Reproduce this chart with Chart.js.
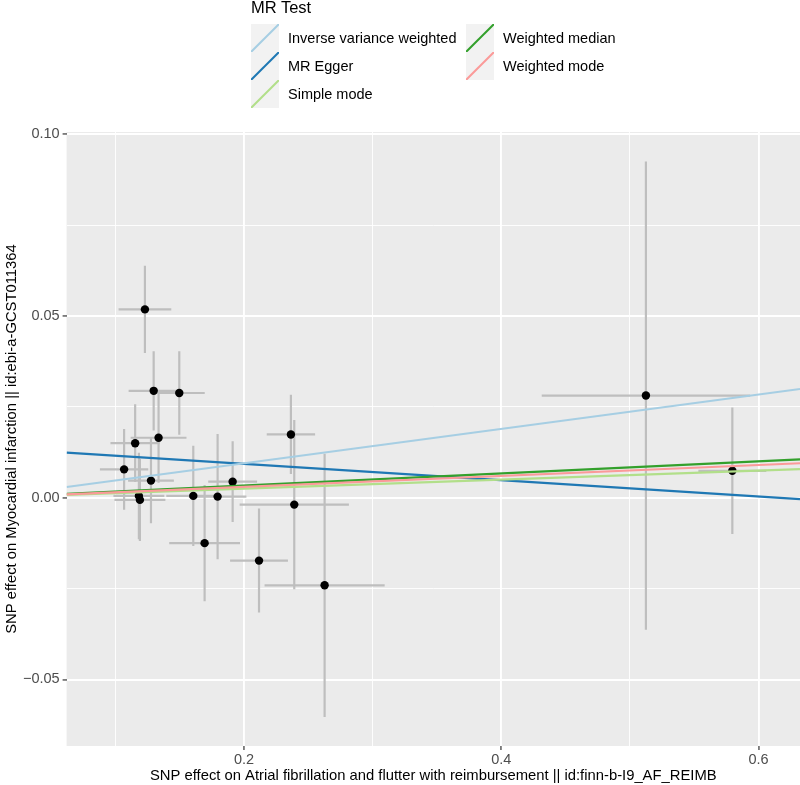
<!DOCTYPE html>
<html>
<head>
<meta charset="utf-8">
<script src="https://cdn.jsdelivr.net/npm/chart.js@4.4.1/dist/chart.umd.min.js"></script>
<style>
  body { margin: 0; background: #fff; font-family: "Liberation Sans", Arial, sans-serif; }
  #wrap { position: relative; width: 800px; height: 785px; }
  #legend { position: absolute; left: 0; top: 0; width: 800px; height: 110px; }
  .lg-title { position: absolute; left: 251px; top: -1px; font-size: 16.5px; line-height: 16.5px; color: #000; }
  .lg-key { position: absolute; width: 28px; height: 28px; background: #F2F2F2; }
  .lg-key svg { display: block; }
  .lg-text { position: absolute; height: 28px; line-height: 28px; font-size: 14.5px; color: #000; white-space: nowrap; }
</style>
</head>
<body>
<div id="wrap">
  <canvas id="chart" width="800" height="785"></canvas>
  <div id="legend"></div>
</div>
<script>
// MR methods, in legend order
const methods = ['Inverse variance weighted', 'MR Egger', 'Simple mode', 'Weighted median', 'Weighted mode'];
const methodColors = ['#A6CEE3', '#1F78B4', '#B2DF8A', '#33A02C', '#FB9A99'];
const slopes = [0.0473, -0.0224, 0.0124, 0.0167, 0.0150];
const intercepts = [0, 0.0138, 0, 0, 0];
// top of the pile first
const lineStack = ['Weighted mode', 'Simple mode', 'Inverse variance weighted', 'Weighted median', 'MR Egger'];

// SNP effects (exposure x, outcome y) and their standard errors
const snpX = [0.1230, 0.1298, 0.1497, 0.1336, 0.1154, 0.1068, 0.1277, 0.1183, 0.1191, 0.1606,
              0.1795, 0.1912, 0.1694, 0.2117, 0.2365, 0.2391, 0.2627, 0.5125, 0.5797];
const snpY = [0.0518, 0.0294, 0.0288, 0.0165, 0.0150, 0.0078, 0.0047, 0.0005, -0.0006, 0.0005,
              0.0003, 0.0044, -0.0125, -0.0173, 0.0174, -0.0019, -0.0241, 0.0281, 0.0074];
const seX = [0.0205, 0.0195, 0.0198, 0.0217, 0.0192, 0.0188, 0.0178, 0.0198, 0.0198, 0.0210,
             0.0224, 0.0190, 0.0275, 0.0225, 0.0188, 0.0425, 0.0467, 0.0810, 0.0264];
const seY = [0.0120, 0.0109, 0.0115, 0.0124, 0.0107, 0.0111, 0.0117, 0.0119, 0.0113, 0.0138,
             0.0172, 0.0111, 0.0160, 0.0143, 0.0109, 0.0233, 0.0362, 0.0644, 0.0174];

const xRange = [0.0621, 0.6323];
const yRange = [-0.0683, 0.1006];
const xTicks = [0.1, 0.2, 0.3, 0.4, 0.5, 0.6];
const xTickLabels = ['', '0.2', '', '0.4', '', '0.6'];
const yTicks = [-0.05, -0.025, 0, 0.025, 0.05, 0.075, 0.1];
const yTickLabels = ['\u22120.05', '', '0.00', '', '0.05', '', '0.10'];

const xTitle = 'SNP effect on Atrial fibrillation and flutter with reimbursement || id:finn-b-I9_AF_REIMB';
const yTitle = 'SNP effect on Myocardial infarction || id:ebi-a-GCST011364';

Chart.defaults.font.family = '"Liberation Sans", Arial, sans-serif';

// error bars: one dataset per direction, broken by gaps
const hBars = [], vBars = [];
snpX.forEach((x, i) => {
  hBars.push({x: x - seX[i], y: snpY[i]}, {x: x + seX[i], y: snpY[i]}, {x: x, y: null});
  vBars.push({x: x, y: snpY[i] - seY[i]}, {x: x, y: snpY[i] + seY[i]}, {x: x, y: null});
});

const lineSets = methods.map((m, i) => ({
  label: m,
  data: xRange.map(x => ({x: x, y: intercepts[i] + slopes[i] * x})),
  showLine: true,
  borderColor: methodColors[i],
  borderWidth: 2.2,
  pointRadius: 0,
  order: lineStack.indexOf(m) + 1
}));

const panelBg = {
  id: 'panelBg',
  beforeDraw(chart) {
    const {ctx, chartArea: a} = chart;
    ctx.save();
    ctx.fillStyle = '#EBEBEB';
    ctx.fillRect(a.left, a.top, a.right - a.left, a.bottom - a.top);
    ctx.restore();
  }
};

const gridFor = labels => ({
  color: '#FFFFFF',
  lineWidth: c => labels[c.index] ? 1.9 : 0.9,
  tickColor: c => labels[c.index] ? '#333333' : 'rgba(0,0,0,0)',
  tickWidth: 1.2,
  tickLength: 4,
  drawTicks: true
});

new Chart(document.getElementById('chart'), {
  type: 'scatter',
  data: {
    datasets: [
      ...lineSets,
      {
        label: 'SNPs',
        data: snpX.map((x, i) => ({x: x, y: snpY[i]})),
        pointRadius: 4.2,
        pointBorderWidth: 0,
        pointBackgroundColor: '#000000',
        order: 8
      },
      {
        label: 'hbar', data: hBars, showLine: true, spanGaps: false,
        borderColor: '#BEBEBE', borderWidth: 2.2, pointRadius: 0, order: 9
      },
      {
        label: 'vbar', data: vBars, showLine: true, spanGaps: false,
        borderColor: '#BEBEBE', borderWidth: 2.2, pointRadius: 0, order: 10
      }
    ]
  },
  options: {
    responsive: false,
    animation: false,
    devicePixelRatio: 1,
    layout: { autoPadding: false, padding: { top: 132, left: 0, right: 0, bottom: 0 } },
    plugins: {
      legend: { display: false },
      tooltip: { enabled: false }
    },
    scales: {
      x: {
        type: 'linear',
        min: xRange[0],
        max: xRange[1],
        afterBuildTicks: s => { s.ticks = xTicks.map(v => ({value: v})); },
        afterFit: s => { s.height = 39; s.paddingLeft = 0; s.paddingRight = 0; },
        border: { display: false },
        grid: gridFor(xTickLabels),
        ticks: {
          autoSkip: false,
          maxRotation: 0,
          padding: 1,
          color: '#4D4D4D',
          font: { size: 14.5 },
          callback: (v, i) => xTickLabels[i]
        },
        title: {
          display: true,
          text: xTitle,
          color: '#000000',
          font: { size: 14.8 },
          padding: { top: 0, bottom: 0 }
        }
      },
      y: {
        type: 'linear',
        min: yRange[0],
        max: yRange[1],
        afterBuildTicks: s => { s.ticks = yTicks.map(v => ({value: v})); },
        afterFit: s => { s.width = 66.6; s.paddingTop = 0; s.paddingBottom = 0; },
        border: { display: false },
        grid: gridFor(yTickLabels),
        ticks: {
          autoSkip: false,
          padding: 3,
          color: '#4D4D4D',
          font: { size: 14.5 },
          callback: (v, i) => yTickLabels[i]
        },
        title: {
          display: true,
          text: yTitle,
          color: '#000000',
          font: { size: 14.8 },
          padding: { top: 3, bottom: 0 }
        }
      }
    }
  },
  plugins: [panelBg]
});

// legend: two columns, three rows
const legend = document.getElementById('legend');
const title = document.createElement('div');
title.className = 'lg-title';
title.textContent = 'MR Test';
legend.appendChild(title);
const keyLeft = [250.5, 465.5];
const keyTop = [23.5, 51.5, 79.5];
methods.forEach((m, i) => {
  const col = Math.floor(i / 3), row = i % 3;
  const key = document.createElement('div');
  key.className = 'lg-key';
  key.style.left = keyLeft[col] + 'px';
  key.style.top = keyTop[row] + 'px';
  key.innerHTML = '<svg width="28" height="28"><line x1="0" y1="28" x2="28" y2="0" stroke="' +
    methodColors[i] + '" stroke-width="2"/></svg>';
  legend.appendChild(key);
  const txt = document.createElement('div');
  txt.className = 'lg-text';
  txt.style.left = (keyLeft[col] + 37.5) + 'px';
  txt.style.top = keyTop[row] + 'px';
  txt.textContent = m;
  legend.appendChild(txt);
});
</script>
</body>
</html>
